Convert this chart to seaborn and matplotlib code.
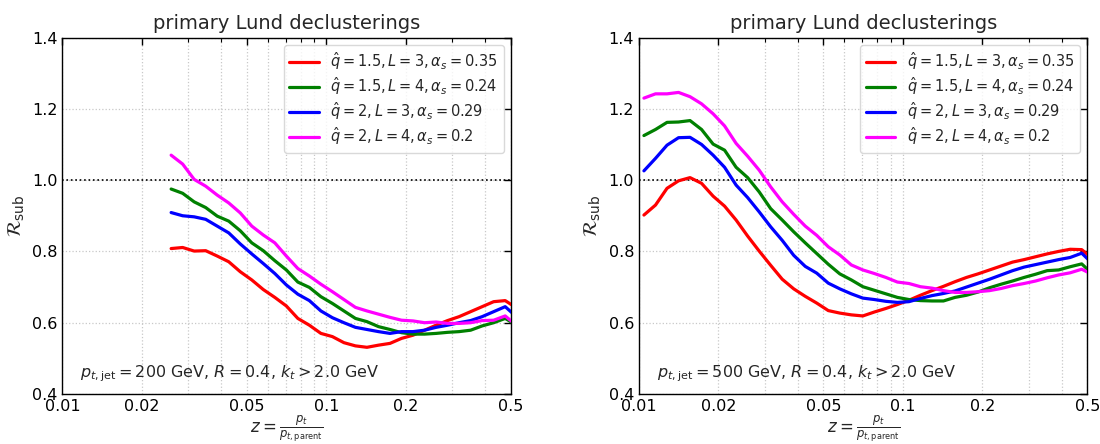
import numpy as np
import pandas as pd
import matplotlib
matplotlib.use("Agg")
import matplotlib.pyplot as plt
import seaborn as sns

# z = pt / pt,parent bin positions (log-spaced)
z_500 = [0.01044, 0.01155, 0.01277, 0.01412, 0.01561, 0.01726, 0.01909, 0.02110,
         0.02333, 0.02580, 0.02853, 0.03154, 0.03488, 0.03856, 0.04264, 0.04715,
         0.05213, 0.05764, 0.06374, 0.07047, 0.07792, 0.08616, 0.09527, 0.10534,
         0.11647, 0.12878, 0.14239, 0.15745, 0.17409, 0.19249, 0.21284, 0.23534,
         0.26022, 0.28772, 0.31814, 0.35177, 0.38895, 0.43006, 0.47552, 0.52579]
z_200 = [0.02580, 0.02853, 0.03154, 0.03488, 0.03856, 0.04264, 0.04715,
         0.05213, 0.05764, 0.06374, 0.07047, 0.07792, 0.08616, 0.09527, 0.10534,
         0.11647, 0.12878, 0.14239, 0.15745, 0.17409, 0.19249, 0.21284, 0.23534,
         0.26022, 0.28772, 0.31814, 0.35177, 0.38895, 0.43006, 0.47552, 0.52579]

# Model labels
labels = [r"$\hat{q}=1.5, L=3, \alpha_s=0.35$",
          r"$\hat{q}=1.5, L=4, \alpha_s=0.24$",
          r"$\hat{q}=2, L=3, \alpha_s=0.29$",
          r"$\hat{q}=2, L=4, \alpha_s=0.2$"]
colors = ["#ff0000", "#008000", "#0000ff", "#ff00ff"]

# R_sub, pt,jet = 200 GeV
r200_q15_L3 = [0.808, 0.811, 0.801, 0.802, 0.787, 0.771, 0.743, 0.720, 0.693, 0.671,
               0.647, 0.612, 0.593, 0.570, 0.561, 0.544, 0.535, 0.531, 0.537, 0.542,
               0.556, 0.565, 0.579, 0.593, 0.606, 0.617, 0.631, 0.645, 0.659, 0.662, 0.641]
r200_q15_L4 = [0.975, 0.963, 0.939, 0.923, 0.899, 0.885, 0.858, 0.824, 0.802, 0.774,
               0.748, 0.714, 0.699, 0.673, 0.654, 0.633, 0.612, 0.603, 0.589, 0.581,
               0.572, 0.568, 0.568, 0.570, 0.573, 0.575, 0.579, 0.591, 0.600, 0.612, 0.593]
r200_q2_L3 = [0.909, 0.900, 0.897, 0.890, 0.871, 0.852, 0.821, 0.793, 0.766, 0.738,
              0.706, 0.680, 0.662, 0.633, 0.614, 0.600, 0.587, 0.581, 0.575, 0.570,
              0.575, 0.575, 0.579, 0.587, 0.593, 0.600, 0.606, 0.617, 0.631, 0.645, 0.616]
r200_q2_L4 = [1.070, 1.045, 1.002, 0.983, 0.958, 0.936, 0.908, 0.871, 0.846, 0.824,
              0.787, 0.752, 0.731, 0.708, 0.687, 0.665, 0.643, 0.633, 0.624, 0.615,
              0.607, 0.605, 0.600, 0.602, 0.598, 0.598, 0.600, 0.606, 0.607, 0.619, 0.592]

# R_sub, pt,jet = 500 GeV
r500_q15_L3 = [0.902, 0.930, 0.977, 0.998, 1.007, 0.991, 0.955, 0.927, 0.888, 0.843,
               0.801, 0.761, 0.722, 0.695, 0.674, 0.655, 0.634, 0.627, 0.622, 0.619,
               0.630, 0.640, 0.651, 0.663, 0.677, 0.690, 0.702, 0.715, 0.727, 0.737,
               0.748, 0.759, 0.770, 0.777, 0.785, 0.793, 0.800, 0.806, 0.805, 0.778]
r500_q15_L4 = [1.125, 1.142, 1.162, 1.163, 1.167, 1.142, 1.101, 1.084, 1.036, 1.007,
               0.967, 0.920, 0.888, 0.855, 0.824, 0.794, 0.764, 0.737, 0.720, 0.701,
               0.691, 0.681, 0.671, 0.665, 0.662, 0.661, 0.661, 0.671, 0.677, 0.686,
               0.698, 0.708, 0.717, 0.727, 0.736, 0.746, 0.748, 0.757, 0.765, 0.735]
r500_q2_L3 = [1.026, 1.061, 1.098, 1.119, 1.120, 1.100, 1.070, 1.036, 0.986, 0.951,
              0.911, 0.869, 0.831, 0.789, 0.758, 0.739, 0.711, 0.695, 0.681, 0.669,
              0.665, 0.660, 0.657, 0.659, 0.668, 0.676, 0.682, 0.689, 0.700, 0.711,
              0.722, 0.734, 0.746, 0.756, 0.763, 0.770, 0.777, 0.783, 0.795, 0.764]
r500_q2_L4 = [1.230, 1.242, 1.242, 1.246, 1.234, 1.214, 1.186, 1.152, 1.103, 1.067,
              1.028, 0.981, 0.939, 0.904, 0.871, 0.845, 0.813, 0.790, 0.762, 0.748,
              0.738, 0.727, 0.714, 0.710, 0.701, 0.697, 0.690, 0.685, 0.685, 0.687,
              0.690, 0.696, 0.704, 0.710, 0.717, 0.726, 0.734, 0.740, 0.750, 0.734]

panels = [
    (z_200, [r200_q15_L3, r200_q15_L4, r200_q2_L3, r200_q2_L4], 200),
    (z_500, [r500_q15_L3, r500_q15_L4, r500_q2_L3, r500_q2_L4], 500),
]

x_ticks = [0.01, 0.02, 0.05, 0.1, 0.2, 0.5]
x_ticklabels = ["0.01", "0.02", "0.05", "0.1", "0.2", "0.5"]
y_ticks = [0.4, 0.6, 0.8, 1.0, 1.2, 1.4]

sns.set_theme(style="white")
plt.rcParams["font.family"] = ["DejaVu Sans"]
plt.rcParams["mathtext.fontset"] = "dejavusans"

fig = plt.figure(figsize=(11.0, 4.44), dpi=100)
ax_w, ax_h, ax_y = 0.4077, 0.8029, 0.1126
axes = [fig.add_axes([0.0568, ax_y, ax_w, ax_h]),
        fig.add_axes([0.5809, ax_y, ax_w, ax_h])]

for ax, (zs, series, ptjet) in zip(axes, panels):
    frames = []
    for lab, vals in zip(labels, series):
        frames.append(pd.DataFrame({"z": zs, "R": vals, "model": lab}))
    df = pd.concat(frames, ignore_index=True)

    ax.set_xscale("log")
    ax.grid(True, which="major", axis="both", color="#c8c8c8", linestyle=":", linewidth=0.9)
    ax.grid(True, which="minor", axis="x", color="#c8c8c8", linestyle=":", linewidth=0.9)
    ax.axhline(1.0, color="black", linestyle=":", linewidth=1.2, zorder=1)

    sns.lineplot(data=df, x="z", y="R", hue="model", hue_order=labels,
                 palette=colors, linewidth=2.3, sort=False, estimator=None,
                 ax=ax, zorder=3)

    ax.set_xlim(0.01, 0.5)
    ax.set_ylim(0.4, 1.4)
    ax.set_xticks(x_ticks)
    ax.set_xticklabels(x_ticklabels)
    ax.set_yticks(y_ticks)
    ax.tick_params(which="both", direction="in", top=True, right=True,
                   labelsize=11.5, colors="black")
    ax.tick_params(which="major", length=5, width=1)
    ax.tick_params(which="minor", length=3, width=0.8)
    ax.minorticks_on()
    ax.yaxis.set_minor_locator(matplotlib.ticker.NullLocator())
    ax.xaxis.set_minor_formatter(matplotlib.ticker.NullFormatter())
    for s in ax.spines.values():
        s.set_color("black")
        s.set_linewidth(1.0)

    ax.set_title("primary Lund declusterings", fontsize=14)
    ax.set_xlabel(r"$z = \frac{p_t}{p_{t,\mathrm{parent}}}$", fontsize=12, labelpad=0)
    ax.set_ylabel(r"$\mathcal{R}_{\mathrm{sub}}$", fontsize=14)
    ax.text(0.04, 0.058,
            r"$p_{t,\mathrm{jet}} = %d$ GeV, $R = 0.4$, $k_t > 2.0$ GeV" % ptjet,
            transform=ax.transAxes, fontsize=11.5, va="center", ha="left")

    leg = ax.legend(loc="upper right", fontsize=10.5, frameon=True,
                    handlelength=2.0, borderaxespad=0.5, labelspacing=0.2)
    leg.get_frame().set_edgecolor("#d0d0d0")
    for h in leg.get_lines():
        h.set_linewidth(2.3)

fig.savefig("out.png", dpi=100)
